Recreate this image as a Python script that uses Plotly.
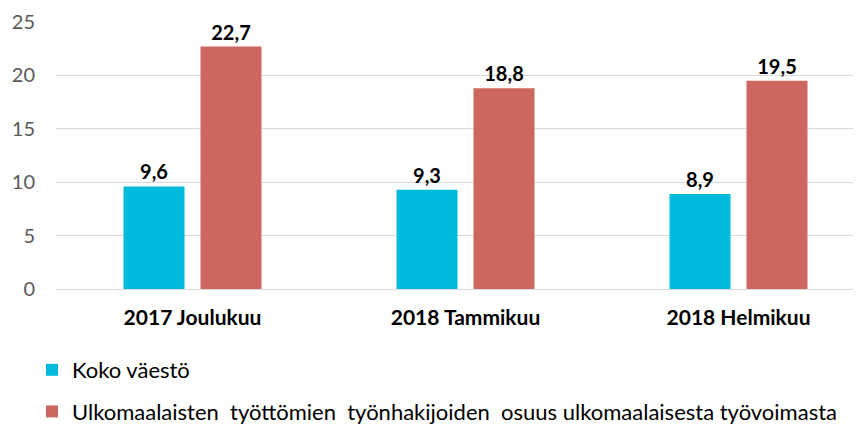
import plotly.graph_objects as go

categories = ["2017 Joulukuu", "2018 Tammikuu", "2018 Helmikuu"]
koko_vaesto = [9.6, 9.3, 8.9]
ulkomaalaiset = [22.7, 18.8, 19.5]
series_names = ["Koko väestö",
                "Ulkomaalaisten  työttömien  työnhakijoiden  osuus ulkomaalaisesta työvoimasta"]
y_ticks = [0, 5, 10, 15, 20, 25]

FONT = "Lato, Carlito, Calibri, sans-serif"
label_font = dict(family=FONT, size=20, color="#000000")

fig = go.Figure()
fig.add_trace(go.Bar(
    x=categories, y=koko_vaesto, name=series_names[0],
    marker=dict(color="#00BADC", line=dict(width=0)),
    width=0.2234, offset=-0.2527,
    texttemplate="<b>%{y:.1f}</b>", textposition="outside",
    textfont=label_font, cliponaxis=False, legendgroup="a",
))
fig.add_trace(go.Bar(
    x=categories, y=ulkomaalaiset, name=series_names[1],
    marker=dict(color="#CC665F", line=dict(width=0)),
    width=0.2234, offset=0.0293,
    texttemplate="<b>%{y:.1f}</b>", textposition="outside",
    textfont=label_font, cliponaxis=False, legendgroup="b",
))

fig.update_layout(
    width=861, height=428,
    margin=dict(l=48, r=0, t=14, b=147, autoexpand=False),
    paper_bgcolor="white", plot_bgcolor="white",
    separators=", ",
    barmode="group",
    showlegend=True,
    legend=dict(
        orientation="v", traceorder="grouped", tracegroupgap=10,
        x=24 / 861, y=1 - 341 / 428, xanchor="left", yanchor="top",
        xref="container", yref="container",
        font=dict(family=FONT, size=22, color="#000000"),
        bgcolor="rgba(0,0,0,0)",
    ),
    xaxis=dict(
        type="category", range=[-0.5, 2.478], automargin=False,
        showgrid=False, showline=True, linecolor="#D9D9D9", linewidth=1,
        ticks="", ticklabelstandoff=10,
        tickfont=dict(family=FONT, size=21, color="#000000", weight="bold"),
    ),
    yaxis=dict(
        range=[0, 25], tickvals=y_ticks, automargin=False,
        showgrid=True, gridcolor="#D9D9D9", gridwidth=1,
        zeroline=False, showline=False, ticks="",
        ticklabelstandoff=20,
        tickfont=dict(family=FONT, size=20, color="#595959"),
    ),
)

fig.write_html("out.html")
